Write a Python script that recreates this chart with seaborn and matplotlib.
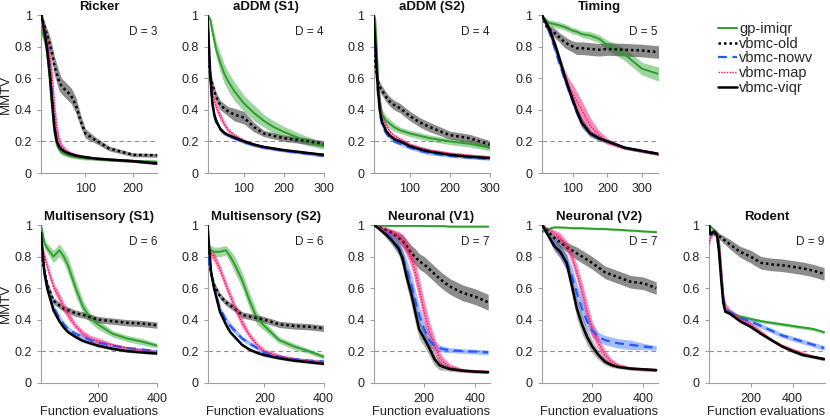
import numpy as np
import matplotlib
matplotlib.use("Agg")
import matplotlib.pyplot as plt
from matplotlib.lines import Line2D
import seaborn as sns

METHODS = ["gp-imiqr", "vbmc-old", "vbmc-nowv", "vbmc-map", "vbmc-viqr"]

# --- Ricker (D = 3) ---
RICKER_X = [8, 15, 20, 25, 30, 35, 40, 45, 50, 60, 70, 80, 90, 100, 120, 150, 200, 250]
RICKER_IMIQR = [0.9, 0.85, 0.75, 0.6, 0.42, 0.26, 0.18, 0.15, 0.13, 0.115, 0.105, 0.1, 0.095, 0.092, 0.088, 0.082, 0.077, 0.072]
RICKER_IMIQR_ERR = [0.04, 0.04, 0.04, 0.04, 0.04, 0.03, 0.02, 0.02, 0.015, 0.012, 0.01, 0.01, 0.01, 0.01, 0.008, 0.008, 0.008, 0.008]
RICKER_OLD = [1.0, 0.92, 0.87, 0.82, 0.76, 0.68, 0.63, 0.58, 0.55, 0.52, 0.49, 0.43, 0.33, 0.25, 0.21, 0.155, 0.115, 0.112]
RICKER_OLD_ERR = [0.0, 0.03, 0.04, 0.05, 0.05, 0.06, 0.06, 0.06, 0.05, 0.05, 0.05, 0.05, 0.04, 0.03, 0.02, 0.015, 0.012, 0.012]
RICKER_NOWV = [1.0, 0.9, 0.8, 0.68, 0.5, 0.32, 0.21, 0.17, 0.15, 0.13, 0.12, 0.11, 0.105, 0.1, 0.092, 0.085, 0.075, 0.062]
RICKER_NOWV_ERR = [0.0, 0.02, 0.03, 0.03, 0.03, 0.03, 0.02, 0.015, 0.015, 0.01, 0.01, 0.01, 0.01, 0.01, 0.008, 0.008, 0.008, 0.008]
RICKER_MAP = [0.93, 0.88, 0.85, 0.76, 0.62, 0.42, 0.28, 0.21, 0.17, 0.14, 0.125, 0.115, 0.108, 0.1, 0.092, 0.085, 0.075, 0.065]
RICKER_MAP_ERR = [0.03, 0.04, 0.04, 0.05, 0.06, 0.06, 0.05, 0.03, 0.02, 0.015, 0.01, 0.01, 0.01, 0.01, 0.008, 0.008, 0.008, 0.008]
RICKER_VIQR = [1.0, 0.88, 0.78, 0.64, 0.46, 0.29, 0.2, 0.165, 0.148, 0.13, 0.118, 0.11, 0.104, 0.1, 0.092, 0.085, 0.075, 0.06]
RICKER_VIQR_ERR = [0.0, 0.02, 0.03, 0.03, 0.03, 0.03, 0.02, 0.015, 0.015, 0.01, 0.01, 0.01, 0.01, 0.01, 0.008, 0.008, 0.008, 0.008]

# --- aDDM (S1) (D = 4) ---
ADDM1_X = [8, 15, 20, 25, 30, 40, 50, 60, 75, 100, 125, 150, 175, 200, 250, 300]
ADDM1_IMIQR = [1.0, 0.97, 0.9, 0.84, 0.78, 0.7, 0.63, 0.58, 0.52, 0.44, 0.38, 0.33, 0.29, 0.26, 0.21, 0.17]
ADDM1_IMIQR_ERR = [0.0, 0.02, 0.04, 0.05, 0.05, 0.06, 0.06, 0.06, 0.06, 0.05, 0.05, 0.04, 0.04, 0.035, 0.03, 0.02]
ADDM1_OLD = [0.75, 0.62, 0.56, 0.52, 0.48, 0.43, 0.41, 0.39, 0.37, 0.35, 0.29, 0.25, 0.235, 0.22, 0.205, 0.185]
ADDM1_OLD_ERR = [0.02, 0.03, 0.03, 0.03, 0.03, 0.03, 0.03, 0.03, 0.04, 0.04, 0.03, 0.02, 0.02, 0.02, 0.02, 0.02]
ADDM1_NOWV = [1.0, 0.6, 0.44, 0.36, 0.32, 0.275, 0.25, 0.235, 0.22, 0.195, 0.175, 0.16, 0.15, 0.14, 0.125, 0.108]
ADDM1_NOWV_ERR = [0.0, 0.03, 0.02, 0.02, 0.015, 0.01, 0.01, 0.01, 0.01, 0.01, 0.01, 0.008, 0.008, 0.008, 0.008, 0.008]
ADDM1_MAP = [0.8, 0.62, 0.52, 0.46, 0.42, 0.36, 0.31, 0.27, 0.24, 0.205, 0.18, 0.165, 0.155, 0.145, 0.13, 0.118]
ADDM1_MAP_ERR = [0.03, 0.03, 0.03, 0.03, 0.03, 0.025, 0.02, 0.015, 0.01, 0.01, 0.01, 0.008, 0.008, 0.008, 0.008, 0.008]
ADDM1_VIQR = [1.0, 0.62, 0.45, 0.37, 0.33, 0.28, 0.255, 0.24, 0.225, 0.2, 0.18, 0.165, 0.155, 0.145, 0.13, 0.115]
ADDM1_VIQR_ERR = [0.0, 0.03, 0.02, 0.02, 0.015, 0.01, 0.01, 0.01, 0.01, 0.01, 0.01, 0.008, 0.008, 0.008, 0.008, 0.008]

# --- aDDM (S2) (D = 4) ---
ADDM2_X = [8, 12, 16, 20, 25, 30, 40, 50, 60, 75, 100, 125, 150, 200, 250, 300]
ADDM2_IMIQR = [1.0, 0.98, 0.8, 0.56, 0.43, 0.37, 0.33, 0.31, 0.29, 0.27, 0.25, 0.235, 0.22, 0.2, 0.185, 0.16]
ADDM2_IMIQR_ERR = [0.0, 0.02, 0.05, 0.05, 0.04, 0.03, 0.03, 0.03, 0.025, 0.02, 0.02, 0.02, 0.02, 0.02, 0.02, 0.02]
ADDM2_OLD = [0.82, 0.7, 0.62, 0.57, 0.54, 0.52, 0.48, 0.45, 0.43, 0.41, 0.36, 0.32, 0.29, 0.24, 0.22, 0.18]
ADDM2_OLD_ERR = [0.03, 0.03, 0.03, 0.03, 0.03, 0.03, 0.03, 0.03, 0.03, 0.03, 0.03, 0.03, 0.03, 0.025, 0.025, 0.025]
ADDM2_NOWV = [1.0, 0.83, 0.63, 0.48, 0.36, 0.3, 0.25, 0.22, 0.2, 0.185, 0.16, 0.14, 0.125, 0.108, 0.097, 0.088]
ADDM2_NOWV_ERR = [0.0, 0.03, 0.03, 0.03, 0.02, 0.015, 0.01, 0.01, 0.01, 0.01, 0.01, 0.01, 0.01, 0.008, 0.008, 0.008]
ADDM2_MAP = [0.95, 0.85, 0.7, 0.56, 0.44, 0.36, 0.3, 0.26, 0.235, 0.215, 0.18, 0.16, 0.145, 0.125, 0.112, 0.102]
ADDM2_MAP_ERR = [0.02, 0.03, 0.03, 0.03, 0.03, 0.02, 0.015, 0.01, 0.01, 0.01, 0.01, 0.01, 0.008, 0.008, 0.008, 0.008]
ADDM2_VIQR = [1.0, 0.85, 0.65, 0.5, 0.38, 0.32, 0.265, 0.235, 0.215, 0.2, 0.17, 0.15, 0.135, 0.115, 0.103, 0.095]
ADDM2_VIQR_ERR = [0.0, 0.03, 0.03, 0.03, 0.02, 0.015, 0.01, 0.01, 0.01, 0.01, 0.01, 0.01, 0.008, 0.008, 0.008, 0.008]

# --- Timing (D = 5) ---
TIMING_X = [10, 20, 30, 40, 50, 60, 75, 90, 100, 110, 125, 150, 175, 200, 250, 300, 350]
TIMING_IMIQR = [1.0, 0.97, 0.95, 0.945, 0.94, 0.935, 0.925, 0.91, 0.9, 0.895, 0.88, 0.87, 0.85, 0.81, 0.75, 0.66, 0.625]
TIMING_IMIQR_ERR = [0.0, 0.015, 0.02, 0.02, 0.02, 0.02, 0.02, 0.02, 0.02, 0.02, 0.02, 0.025, 0.025, 0.03, 0.04, 0.04, 0.045]
TIMING_OLD = [1.0, 0.94, 0.91, 0.9, 0.88, 0.86, 0.83, 0.81, 0.8, 0.79, 0.79, 0.785, 0.78, 0.785, 0.78, 0.775, 0.765]
TIMING_OLD_ERR = [0.0, 0.02, 0.02, 0.025, 0.03, 0.03, 0.035, 0.035, 0.035, 0.04, 0.04, 0.04, 0.04, 0.04, 0.04, 0.04, 0.04]
TIMING_NOWV = [1.0, 0.95, 0.9, 0.84, 0.77, 0.7, 0.6, 0.51, 0.45, 0.39, 0.32, 0.25, 0.22, 0.2, 0.16, 0.14, 0.12]
TIMING_NOWV_ERR = [0.0, 0.01, 0.02, 0.03, 0.03, 0.03, 0.03, 0.03, 0.03, 0.03, 0.03, 0.02, 0.015, 0.01, 0.01, 0.01, 0.01]
TIMING_MAP = [1.0, 0.95, 0.91, 0.85, 0.79, 0.72, 0.62, 0.54, 0.5, 0.46, 0.4, 0.3, 0.24, 0.2, 0.16, 0.14, 0.122]
TIMING_MAP_ERR = [0.0, 0.01, 0.02, 0.03, 0.03, 0.03, 0.04, 0.05, 0.06, 0.06, 0.06, 0.05, 0.03, 0.02, 0.01, 0.01, 0.01]
TIMING_VIQR = [1.0, 0.96, 0.92, 0.86, 0.8, 0.73, 0.62, 0.52, 0.46, 0.4, 0.32, 0.25, 0.22, 0.2, 0.16, 0.14, 0.12]
TIMING_VIQR_ERR = [0.0, 0.01, 0.02, 0.03, 0.03, 0.03, 0.03, 0.03, 0.03, 0.03, 0.03, 0.02, 0.015, 0.01, 0.01, 0.01, 0.01]

# --- Multisensory (S1) (D = 6) ---
MULTI1_X = [8, 20, 30, 50, 70, 85, 100, 125, 150, 175, 200, 250, 300, 350, 400]
MULTI1_IMIQR = [1.0, 0.88, 0.85, 0.8, 0.84, 0.8, 0.74, 0.6, 0.48, 0.41, 0.37, 0.31, 0.28, 0.26, 0.235]
MULTI1_IMIQR_ERR = [0.0, 0.03, 0.03, 0.04, 0.04, 0.04, 0.05, 0.05, 0.04, 0.03, 0.03, 0.02, 0.02, 0.02, 0.015]
MULTI1_OLD = [0.82, 0.7, 0.62, 0.52, 0.49, 0.47, 0.46, 0.44, 0.43, 0.415, 0.4, 0.39, 0.38, 0.375, 0.365]
MULTI1_OLD_ERR = [0.02, 0.02, 0.02, 0.02, 0.02, 0.02, 0.02, 0.02, 0.02, 0.02, 0.02, 0.02, 0.02, 0.02, 0.02]
MULTI1_NOWV = [0.82, 0.7, 0.6, 0.48, 0.41, 0.37, 0.34, 0.31, 0.29, 0.27, 0.255, 0.235, 0.22, 0.21, 0.2]
MULTI1_NOWV_ERR = [0.02, 0.02, 0.02, 0.02, 0.02, 0.02, 0.015, 0.015, 0.015, 0.01, 0.01, 0.01, 0.01, 0.01, 0.01]
MULTI1_MAP = [0.87, 0.8, 0.73, 0.61, 0.54, 0.48, 0.43, 0.36, 0.31, 0.28, 0.265, 0.24, 0.22, 0.205, 0.195]
MULTI1_MAP_ERR = [0.02, 0.03, 0.03, 0.03, 0.03, 0.03, 0.03, 0.02, 0.02, 0.02, 0.02, 0.01, 0.01, 0.01, 0.01]
MULTI1_VIQR = [0.95, 0.69, 0.59, 0.46, 0.39, 0.35, 0.32, 0.29, 0.265, 0.25, 0.235, 0.215, 0.2, 0.192, 0.185]
MULTI1_VIQR_ERR = [0.02, 0.02, 0.02, 0.02, 0.015, 0.01, 0.01, 0.01, 0.01, 0.01, 0.01, 0.01, 0.008, 0.008, 0.008]

# --- Multisensory (S2) (D = 6) ---
MULTI2_X = [8, 20, 30, 50, 70, 85, 100, 125, 150, 175, 200, 250, 300, 350, 400]
MULTI2_IMIQR = [0.85, 0.84, 0.83, 0.83, 0.84, 0.8, 0.75, 0.65, 0.52, 0.41, 0.36, 0.27, 0.23, 0.2, 0.165]
MULTI2_IMIQR_ERR = [0.02, 0.03, 0.03, 0.03, 0.03, 0.04, 0.05, 0.05, 0.05, 0.04, 0.03, 0.02, 0.02, 0.015, 0.015]
MULTI2_OLD = [0.83, 0.7, 0.62, 0.55, 0.51, 0.49, 0.47, 0.43, 0.42, 0.41, 0.4, 0.37, 0.36, 0.355, 0.345]
MULTI2_OLD_ERR = [0.02, 0.02, 0.02, 0.02, 0.02, 0.02, 0.02, 0.02, 0.02, 0.02, 0.02, 0.02, 0.02, 0.02, 0.02]
MULTI2_NOWV = [0.8, 0.7, 0.61, 0.47, 0.4, 0.36, 0.33, 0.28, 0.25, 0.22, 0.19, 0.165, 0.15, 0.14, 0.135]
MULTI2_NOWV_ERR = [0.02, 0.02, 0.02, 0.02, 0.02, 0.02, 0.02, 0.015, 0.015, 0.01, 0.01, 0.01, 0.01, 0.01, 0.01]
MULTI2_MAP = [0.85, 0.82, 0.8, 0.72, 0.62, 0.55, 0.48, 0.38, 0.3, 0.24, 0.2, 0.17, 0.15, 0.14, 0.13]
MULTI2_MAP_ERR = [0.02, 0.03, 0.03, 0.03, 0.03, 0.03, 0.03, 0.03, 0.02, 0.02, 0.015, 0.01, 0.01, 0.01, 0.01]
MULTI2_VIQR = [1.0, 0.7, 0.6, 0.45, 0.37, 0.32, 0.29, 0.24, 0.21, 0.19, 0.175, 0.155, 0.14, 0.13, 0.12]
MULTI2_VIQR_ERR = [0.0, 0.02, 0.02, 0.02, 0.015, 0.01, 0.01, 0.01, 0.01, 0.01, 0.01, 0.008, 0.008, 0.008, 0.008]

# --- Neuronal (V1) (D = 7) ---
NEUR1_X = [5, 50, 75, 100, 115, 130, 150, 165, 180, 200, 220, 240, 260, 275, 300, 350, 400, 450]
NEUR1_IMIQR = [1.0, 0.995, 0.995, 0.995, 0.995, 0.995, 0.995, 0.995, 0.995, 0.993, 0.993, 0.993, 0.993, 0.993, 0.99, 0.99, 0.99, 0.99]
NEUR1_IMIQR_ERR = [0.0, 0.004, 0.004, 0.004, 0.004, 0.004, 0.004, 0.004, 0.004, 0.004, 0.004, 0.004, 0.004, 0.004, 0.004, 0.004, 0.004, 0.004]
NEUR1_OLD = [1.0, 0.97, 0.95, 0.92, 0.9, 0.87, 0.82, 0.8, 0.77, 0.75, 0.72, 0.69, 0.66, 0.64, 0.61, 0.57, 0.545, 0.51]
NEUR1_OLD_ERR = [0.0, 0.01, 0.02, 0.03, 0.04, 0.04, 0.05, 0.05, 0.05, 0.05, 0.05, 0.05, 0.05, 0.05, 0.05, 0.05, 0.05, 0.05]
NEUR1_NOWV = [1.0, 0.95, 0.91, 0.86, 0.8, 0.73, 0.62, 0.52, 0.43, 0.34, 0.27, 0.235, 0.22, 0.212, 0.207, 0.2, 0.197, 0.192]
NEUR1_NOWV_ERR = [0.0, 0.02, 0.03, 0.04, 0.05, 0.06, 0.07, 0.07, 0.06, 0.05, 0.04, 0.03, 0.02, 0.02, 0.015, 0.015, 0.015, 0.015]
NEUR1_MAP = [1.0, 0.97, 0.95, 0.93, 0.9, 0.86, 0.79, 0.7, 0.6, 0.45, 0.33, 0.24, 0.16, 0.13, 0.1, 0.08, 0.074, 0.07]
NEUR1_MAP_ERR = [0.0, 0.02, 0.02, 0.03, 0.04, 0.05, 0.06, 0.07, 0.07, 0.07, 0.06, 0.05, 0.04, 0.03, 0.02, 0.01, 0.01, 0.01]
NEUR1_VIQR = [1.0, 0.94, 0.9, 0.85, 0.79, 0.68, 0.56, 0.45, 0.34, 0.28, 0.22, 0.15, 0.11, 0.1, 0.087, 0.076, 0.07, 0.067]
NEUR1_VIQR_ERR = [0.0, 0.02, 0.03, 0.04, 0.05, 0.06, 0.07, 0.07, 0.06, 0.05, 0.05, 0.04, 0.03, 0.02, 0.015, 0.01, 0.01, 0.01]

# --- Neuronal (V2) (D = 7) ---
NEUR2_X = [5, 50, 75, 100, 120, 140, 160, 180, 200, 225, 250, 275, 300, 350, 400, 450]
NEUR2_IMIQR = [0.96, 0.985, 0.985, 0.983, 0.98, 0.98, 0.98, 0.978, 0.977, 0.975, 0.975, 0.972, 0.97, 0.965, 0.96, 0.955]
NEUR2_IMIQR_ERR = [0.01, 0.006, 0.006, 0.006, 0.006, 0.006, 0.006, 0.006, 0.006, 0.006, 0.006, 0.006, 0.006, 0.006, 0.006, 0.006]
NEUR2_OLD = [1.0, 0.92, 0.89, 0.86, 0.84, 0.82, 0.8, 0.78, 0.76, 0.73, 0.7, 0.685, 0.67, 0.64, 0.63, 0.6]
NEUR2_OLD_ERR = [0.0, 0.02, 0.03, 0.03, 0.035, 0.04, 0.04, 0.04, 0.04, 0.04, 0.04, 0.04, 0.04, 0.04, 0.04, 0.04]
NEUR2_NOWV = [1.0, 0.88, 0.83, 0.77, 0.68, 0.57, 0.47, 0.39, 0.33, 0.29, 0.27, 0.26, 0.25, 0.24, 0.23, 0.22]
NEUR2_NOWV_ERR = [0.0, 0.03, 0.04, 0.05, 0.06, 0.06, 0.06, 0.05, 0.04, 0.03, 0.03, 0.03, 0.03, 0.03, 0.02, 0.015]
NEUR2_MAP = [1.0, 0.95, 0.92, 0.87, 0.8, 0.7, 0.58, 0.45, 0.34, 0.25, 0.175, 0.133, 0.11, 0.09, 0.085, 0.08]
NEUR2_MAP_ERR = [0.0, 0.02, 0.03, 0.03, 0.04, 0.05, 0.06, 0.06, 0.05, 0.04, 0.03, 0.02, 0.015, 0.01, 0.01, 0.01]
NEUR2_VIQR = [1.0, 0.87, 0.83, 0.76, 0.62, 0.47, 0.37, 0.29, 0.23, 0.175, 0.133, 0.112, 0.1, 0.09, 0.085, 0.08]
NEUR2_VIQR_ERR = [0.0, 0.03, 0.04, 0.05, 0.06, 0.06, 0.06, 0.05, 0.04, 0.03, 0.02, 0.015, 0.01, 0.01, 0.01, 0.01]

# --- Rodent (D = 9) ---
RODENT_X = [2, 10, 25, 40, 50, 60, 70, 80, 100, 150, 200, 250, 300, 350, 400, 450, 500, 550]
RODENT_IMIQR = [1.0, 0.99, 0.97, 0.95, 0.9, 0.7, 0.52, 0.46, 0.44, 0.42, 0.405, 0.39, 0.38, 0.37, 0.36, 0.35, 0.34, 0.32]
RODENT_IMIQR_ERR = [0.01, 0.01, 0.01, 0.01, 0.01, 0.01, 0.01, 0.01, 0.01, 0.01, 0.01, 0.01, 0.01, 0.01, 0.01, 0.01, 0.01, 0.01]
RODENT_OLD = [0.95, 0.95, 0.95, 0.94, 0.93, 0.92, 0.91, 0.9, 0.88, 0.83, 0.8, 0.76, 0.75, 0.745, 0.735, 0.725, 0.71, 0.69]
RODENT_OLD_ERR = [0.01, 0.01, 0.015, 0.02, 0.02, 0.02, 0.025, 0.025, 0.03, 0.035, 0.04, 0.04, 0.04, 0.04, 0.04, 0.04, 0.04, 0.04]
RODENT_NOWV = [0.95, 0.94, 0.95, 0.94, 0.85, 0.7, 0.55, 0.47, 0.45, 0.41, 0.39, 0.36, 0.33, 0.3, 0.28, 0.26, 0.24, 0.22]
RODENT_NOWV_ERR = [0.015, 0.015, 0.015, 0.015, 0.015, 0.015, 0.015, 0.015, 0.015, 0.015, 0.015, 0.015, 0.015, 0.015, 0.015, 0.015, 0.015, 0.015]
RODENT_MAP = [0.88, 0.93, 0.96, 0.95, 0.9, 0.75, 0.56, 0.48, 0.45, 0.41, 0.37, 0.32, 0.27, 0.235, 0.21, 0.185, 0.165, 0.15]
RODENT_MAP_ERR = [0.03, 0.02, 0.02, 0.02, 0.03, 0.04, 0.04, 0.03, 0.02, 0.015, 0.015, 0.015, 0.01, 0.01, 0.01, 0.01, 0.01, 0.01]
RODENT_VIQR = [1.0, 0.94, 0.96, 0.94, 0.83, 0.66, 0.51, 0.45, 0.44, 0.39, 0.355, 0.31, 0.27, 0.23, 0.2, 0.175, 0.163, 0.15]
RODENT_VIQR_ERR = [0.01, 0.01, 0.01, 0.01, 0.01, 0.01, 0.01, 0.01, 0.01, 0.01, 0.01, 0.01, 0.01, 0.01, 0.01, 0.01, 0.01, 0.01]

# table of panels: title, D, x, medians, band half-widths, xlim, xticks, row, col
PANELS = [
    ("Ricker", 3, RICKER_X,
     [RICKER_IMIQR, RICKER_OLD, RICKER_NOWV, RICKER_MAP, RICKER_VIQR],
     [RICKER_IMIQR_ERR, RICKER_OLD_ERR, RICKER_NOWV_ERR, RICKER_MAP_ERR, RICKER_VIQR_ERR],
     (7, 250), [100, 200], 0, 0),
    ("aDDM (S1)", 4, ADDM1_X,
     [ADDM1_IMIQR, ADDM1_OLD, ADDM1_NOWV, ADDM1_MAP, ADDM1_VIQR],
     [ADDM1_IMIQR_ERR, ADDM1_OLD_ERR, ADDM1_NOWV_ERR, ADDM1_MAP_ERR, ADDM1_VIQR_ERR],
     (8, 300), [100, 200, 300], 0, 1),
    ("aDDM (S2)", 4, ADDM2_X,
     [ADDM2_IMIQR, ADDM2_OLD, ADDM2_NOWV, ADDM2_MAP, ADDM2_VIQR],
     [ADDM2_IMIQR_ERR, ADDM2_OLD_ERR, ADDM2_NOWV_ERR, ADDM2_MAP_ERR, ADDM2_VIQR_ERR],
     (8, 300), [100, 200, 300], 0, 2),
    ("Timing", 5, TIMING_X,
     [TIMING_IMIQR, TIMING_OLD, TIMING_NOWV, TIMING_MAP, TIMING_VIQR],
     [TIMING_IMIQR_ERR, TIMING_OLD_ERR, TIMING_NOWV_ERR, TIMING_MAP_ERR, TIMING_VIQR_ERR],
     (9, 345), [100, 200, 300], 0, 3),
    ("Multisensory (S1)", 6, MULTI1_X,
     [MULTI1_IMIQR, MULTI1_OLD, MULTI1_NOWV, MULTI1_MAP, MULTI1_VIQR],
     [MULTI1_IMIQR_ERR, MULTI1_OLD_ERR, MULTI1_NOWV_ERR, MULTI1_MAP_ERR, MULTI1_VIQR_ERR],
     (8, 400), [200, 400], 1, 0),
    ("Multisensory (S2)", 6, MULTI2_X,
     [MULTI2_IMIQR, MULTI2_OLD, MULTI2_NOWV, MULTI2_MAP, MULTI2_VIQR],
     [MULTI2_IMIQR_ERR, MULTI2_OLD_ERR, MULTI2_NOWV_ERR, MULTI2_MAP_ERR, MULTI2_VIQR_ERR],
     (8, 400), [200, 400], 1, 1),
    ("Neuronal (V1)", 7, NEUR1_X,
     [NEUR1_IMIQR, NEUR1_OLD, NEUR1_NOWV, NEUR1_MAP, NEUR1_VIQR],
     [NEUR1_IMIQR_ERR, NEUR1_OLD_ERR, NEUR1_NOWV_ERR, NEUR1_MAP_ERR, NEUR1_VIQR_ERR],
     (2, 455), [200, 400], 1, 2),
    ("Neuronal (V2)", 7, NEUR2_X,
     [NEUR2_IMIQR, NEUR2_OLD, NEUR2_NOWV, NEUR2_MAP, NEUR2_VIQR],
     [NEUR2_IMIQR_ERR, NEUR2_OLD_ERR, NEUR2_NOWV_ERR, NEUR2_MAP_ERR, NEUR2_VIQR_ERR],
     (2, 455), [200, 400], 1, 3),
    ("Rodent", 9, RODENT_X,
     [RODENT_IMIQR, RODENT_OLD, RODENT_NOWV, RODENT_MAP, RODENT_VIQR],
     [RODENT_IMIQR_ERR, RODENT_OLD_ERR, RODENT_NOWV_ERR, RODENT_MAP_ERR, RODENT_VIQR_ERR],
     (0, 552), [200, 400], 1, 4),
]

STYLES = {
    "gp-imiqr":  dict(color="#2ca02c", lw=1.4, ls="-", band="#2ca02c", alpha=0.45, z=2),
    "vbmc-old":  dict(color="#000000", lw=1.8, ls=(0, (1, 1.2)), band="#404040", alpha=0.6, z=3),
    "vbmc-nowv": dict(color="#1f5bff", lw=1.6, ls=(0, (4, 2.5)), band="#1f5bff", alpha=0.4, z=4),
    "vbmc-map":  dict(color="#f0146e", lw=1.0, ls=(0, (1, 1)), band="#ff2a7f", alpha=0.55, z=5),
    "vbmc-viqr": dict(color="#000000", lw=1.8, ls="-", band="#202020", alpha=0.35, z=6),
}

SPINE = "#a0a0a0"
TEXT = "#222222"

sns.set_theme(style="ticks")
plt.rcParams["font.family"] = ["Liberation Sans", "DejaVu Sans"]

W, H = 830, 419
fig = plt.figure(figsize=(W / 100, H / 100), dpi=100)

col_left = [41, 207.5, 373.5, 541.5, 708.5]
ax_w = 116
rows = [(15, 173), (225, 382.7)]


def draw_panel(ax, x, series, errs):
    x = np.asarray(x, dtype=float)
    for name, y, e in zip(METHODS, series, errs):
        st = STYLES[name]
        y = np.asarray(y)
        e = np.asarray(e)
        ax.fill_between(x, y - e, y + e, color=st["band"], alpha=st["alpha"],
                        lw=0, zorder=1 + st["z"] * 0.1)
        sns.lineplot(x=x, y=y, ax=ax, color=st["color"], lw=st["lw"],
                     linestyle=st["ls"], zorder=3 + st["z"] * 0.1)


for title, d, x, series, errs, xlim, xticks, r, c in PANELS:
    top, bottom = rows[r]
    rect = [col_left[c] / W, 1 - bottom / H, ax_w / W, (bottom - top) / H]
    ax = fig.add_axes(rect)
    draw_panel(ax, x, series, errs)
    ax.axhline(0.2, color="#909090", lw=0.8, ls=(0, (4, 3)), zorder=0.5)

    ax.set_xlim(*xlim)
    ax.set_ylim(0, 1)
    ax.set_xticks(xticks)
    ax.set_xticklabels([str(t) for t in xticks])
    ax.set_yticks([0, 0.2, 0.4, 0.6, 0.8, 1])
    ax.set_yticklabels(["0", "0.2", "0.4", "0.6", "0.8", "1"])
    sns.despine(ax=ax)
    for s in ["left", "bottom"]:
        ax.spines[s].set_color(SPINE)
        ax.spines[s].set_linewidth(0.8)
    ax.tick_params(length=3, width=0.8, color=SPINE, labelsize=9, labelcolor=TEXT)
    ax.tick_params(axis="y", pad=3.5)
    ax.tick_params(axis="x", pad=4.5)

    ax.set_title(title, fontsize=9.5, fontweight="bold", pad=3.5, color="#111111")
    ax.text(1.0, 0.895, f"D = {d}", transform=ax.transAxes, ha="right", va="center",
            fontsize=8.5, color=TEXT)
    ax.set_xlabel("Function evaluations" if r == 1 else "", fontsize=9.3, color=TEXT, labelpad=0.3)
    ax.set_ylabel("MMTV" if c == 0 else "", fontsize=9.5, color=TEXT, labelpad=2)

handles = [Line2D([], [], color=STYLES[m]["color"], lw=STYLES[m]["lw"], ls=STYLES[m]["ls"])
           for m in METHODS]
fig.legend(handles, METHODS, loc="upper left", bbox_to_anchor=(718 / W, 1 - 22 / H),
           frameon=False, fontsize=10.5, handlelength=1.3, handletextpad=0.15,
           labelspacing=0.05, borderpad=0, borderaxespad=0)

fig.savefig("out.png", dpi=100)
